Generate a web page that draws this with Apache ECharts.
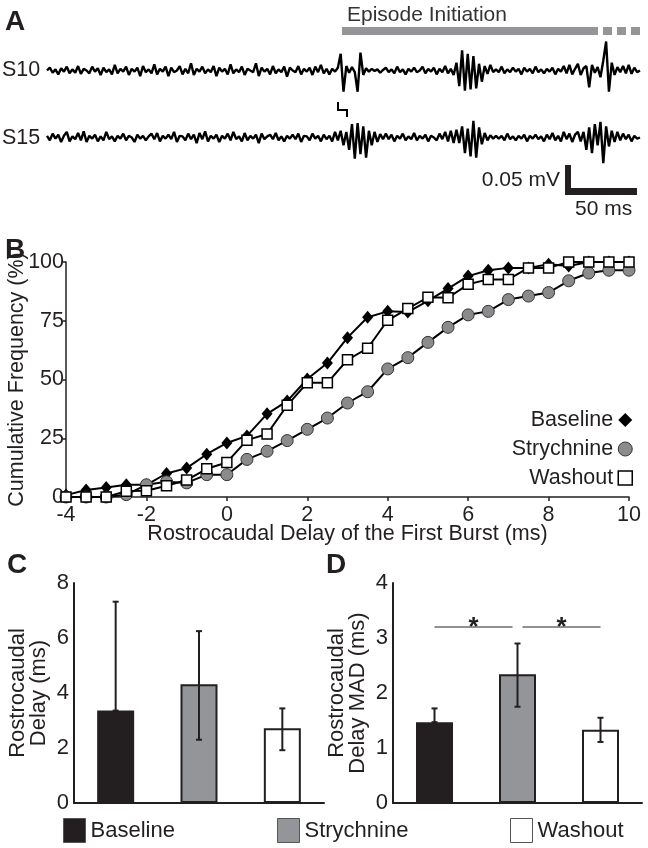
<!DOCTYPE html>
<html><head><meta charset="utf-8">
<script src="https://cdn.jsdelivr.net/npm/echarts@6/dist/echarts.min.js"></script>
<style>html,body{margin:0;padding:0;background:#fff}#c{width:648px;height:848px}</style>
</head><body><div id="c"></div>
<script>
// ---- Panel A: extracellular traces (µV), sampled every 2 ms, 0..420 ms ----
const traceStepMs = 2;
const traceS10 = [
  0, 5, -4, 2, -7, 4, -2, 7, -5, 2, -4, 8, -6, 3, 0, -5, 7, -2, 4, -8,
  5, -3, 2, -7, 10, -5, 3, -2, 7, -8, 3, -2, 5, -10, 8, -3, 2, -5, 11, -7,
  3, -2, 7, -10, 5, -3, 0, 8, -7, 3, -5, 13, -8, 3, -2, 7, -5, 2, -3, 8,
  -10, 5, -2, 3, -7, 11, -5, 2, -3, 7, -8, 3, 0, -3, 13, -10, 5, -2, 3, -7,
  8, -5, 2, -3, 7, -11, 5, 0, -3, 8, -7, 3, -2, 5, -8, 7, -3, 10, -5, 3,
  -7, 3, -2, 5,
  30, -38, 8, -4, 6, -3, -38, 32, -8, 4, -2, 3, -1, 2, -4, 1,
  5, -3, 2, -5, 7, -3, 2, -7, 3, -2, 5, -3, 0, 7, -5, 3, -2, 5, -7, 3,
  -3, 8, -5, 3, -8,
  14, -28, 36, -36, 30, -34, 26, -32, 12, -20, 8, -6, 10, -3, 2,
  -3, 7, -5, 2, -3, 5, -2, 3, -7, 5, -2, 3, -5, 7, -3, 2, -5, 3, -2, 5,
  -7, 3, -2, 8, -5, 10, -7, 3, 12, -8,
  4, 8, -30, 10, -4, 6, -12, 18, 52, -38,
  14, -8, 6, -3, 8, -5, 10, -6, 5, -3, 0
];
const traceS15 = [
  3, -5, 7, -2, 5, -8, 3, 10, -7, 2, -3, 8, -5, 11, -8, 3, -2, 5, -7, 2,
  -5, 10, -3, 2, -7, 3, -2, 7, -5, 3, 0, -8, 5, -2, 3, -5, 2, 7, -3, 8,
  -7, 3, -2, 5, -3, 10, -8, 3, 2, -5, 7, -3, 5, -10, 8, -3, 11, -7, 3, -2,
  5, -8, 3, -2, 7, -5, 10, -3, 2, -7, 8, -5, 3, -2, 5, -10, 7, -3, 2, 5,
  -3, 8, -5, 2, -7, 3, -2, 5, -3, 7, -8, 3, 2, -5, 7, -2, 3, -7, 5, -3,
  3, -7, 10, -5, 12,
  -14, 10, -22, 24, -38, 26, -30, 20, -36, 12, -14, 10, -8, 6, -3,
  7, -3, 5, -7, 3, -2, 7, -5, 2, -3, 8, -5, 3, -2, 5, -7, 3, 0, -5, 7, -3, 10, -7, 12, -10,
  14, -10, 20, -28, 16, -34, 30, -36, 18, -12, 8, -5, 4, -2, 3,
  -2, 3, -5, 7, -3, 2, -5, 3, -2, 5, -7, 3, -2, 5, -3, 2, -7, 5, -3, 8, -5, 3, -7, 10, -3, 7, -8, 5, 10, -7,
  10, -22, 18, -28, 24, -14, 28, -46, 20, -16,
  12, -8, 10, -5, 7, -3, 5, -7, 3, -2, 0
];
const traceLabels = ['S10', 'S15'];

// ---- Panel B: cumulative frequency (%) ----
const delaysMs = [-4,-3.5,-3,-2.5,-2,-1.5,-1,-0.5,0,0.5,1,1.5,2,2.5,3,3.5,4,4.5,5,5.5,6,6.5,7,7.5,8,8.5,9,9.5,10];
const cdfBaseline   = [0.8,3,4,5.2,5.2,10,12.3,18.2,23,26,35.4,40.8,50.2,57,67.8,76.5,79,78.7,83.5,88.7,94,96.5,97.5,97.5,99,98.3,100,100,100];
const cdfStrychnine = [0,0,0,1,5.2,6.5,6,9.5,9.5,16,19.5,24,28.8,33.6,40,44.8,54.5,59.3,65.8,72.2,77.5,79,84,85.5,87,92,95.3,96.5,96.5];
const cdfWashout    = [0,0,0,2.5,2.7,4.8,7.2,12,14.7,24.2,26.8,39,48.6,48.6,58.4,63.3,75.2,80.2,85,84.8,90.5,92.6,92.6,97.5,97.5,100,100,100,100];
const bYTicks = [0, 25, 50, 75, 100];
const bXTicks = [-4, 10];

// ---- Panels C & D ----
const groups = ['Baseline', 'Strychnine', 'Washout'];
const delayMean = [3.36, 4.32, 2.72];
const delayLow  = [3.36, 2.30, 1.92];
const delayHigh = [7.32, 6.25, 3.44];
const madMean = [1.47, 2.34, 1.33];
const madLow  = [1.47, 1.75, 1.11];
const madHigh = [1.72, 2.90, 1.55];
const sigPairs = [[0, 1], [1, 2]];
const sigLevel = 3.2;

// ---- styling ----
const FF = "'Liberation Sans', Arial, Helvetica, sans-serif";
const INK = '#231f20';
const GRAY = '#939598';
const groupColors = [INK, GRAY, '#ffffff'];

const traceTimes = traceS10.map((_, i) => i * traceStepMs);

function errRender(params, api) {
  const x = api.value(0), lo = api.value(1), hi = api.value(2);
  const pLo = api.coord([x, lo]), pHi = api.coord([x, hi]);
  const cap = 3, st = {stroke: INK, lineWidth: 2};
  const ch = [
    {type: 'line', shape: {x1: pLo[0], y1: pLo[1], x2: pHi[0], y2: pHi[1]}, style: st},
    {type: 'line', shape: {x1: pHi[0] - cap, y1: pHi[1], x2: pHi[0] + cap, y2: pHi[1]}, style: st}
  ];
  if (pLo[1] - pHi[1] > 1) ch.push({type: 'line', shape: {x1: pLo[0] - cap, y1: pLo[1], x2: pLo[0] + cap, y2: pLo[1]}, style: st});
  return {type: 'group', children: ch};
}
function sigRender(params, api) {
  const a = api.value(0), b = api.value(1), y = api.value(2);
  const pa = api.coord([a, y]), pb = api.coord([b, y]);
  const x1 = pa[0] + (a === 1 ? 5 : 0), x2 = pb[0] - (b === 1 ? 5 : 0);
  return {type: 'group', children: [
    {type: 'line', shape: {x1: x1, y1: pa[1], x2: x2, y2: pa[1]}, style: {stroke: INK, lineWidth: 1}},
    {type: 'text', style: {text: '*', x: (x1 + x2) / 2, y: pa[1] + 14, align: 'center', verticalAlign: 'bottom',
      font: 'bold 26px ' + FF, fill: INK}}
  ]};
}

const chart = echarts.init(document.getElementById('c'), null, {renderer: 'canvas'});
const txtB = {fontFamily: FF, fontSize: 21.5, color: INK};
const txtCD = {fontFamily: FF, fontSize: 22, color: INK};
const gridBase = {containLabel: false, outerBoundsMode: 'none'};

const option = {
  animation: false,
  backgroundColor: '#fff',
  textStyle: {fontFamily: FF},
  grid: [
    Object.assign({left: 47, width: 593, top: 37, height: 67}, gridBase),
    Object.assign({left: 47, width: 593, top: 104, height: 67}, gridBase),
    Object.assign({left: 66, width: 563, top: 262, height: 235}, gridBase),
    Object.assign({left: 74, width: 250, top: 583, height: 220}, gridBase),
    Object.assign({left: 393, width: 249, top: 583, height: 220}, gridBase)
  ],
  xAxis: [
    {gridIndex: 0, type: 'category', data: traceTimes, boundaryGap: false, show: false},
    {gridIndex: 1, type: 'category', data: traceTimes, boundaryGap: false, show: false},
    {gridIndex: 2, type: 'value', min: bXTicks[0], max: bXTicks[1], interval: 2,
      axisLine: {onZero: false, lineStyle: {color: INK, width: 1.5}},
      axisTick: {show: true, length: 4, lineStyle: {color: INK, width: 1.5}},
      axisLabel: Object.assign({margin: 7}, txtB), splitLine: {show: false},
      name: 'Rostrocaudal Delay of the First Burst (ms)', nameLocation: 'middle', nameGap: 26,
      nameMoveOverlap: false, nameTextStyle: txtB},
    {gridIndex: 3, type: 'category', data: groups, axisLine: {lineStyle: {color: INK, width: 2}},
      axisTick: {show: false}, axisLabel: {show: false}},
    {gridIndex: 4, type: 'category', data: groups, axisLine: {lineStyle: {color: INK, width: 2}},
      axisTick: {show: false}, axisLabel: {show: false}}
  ],
  yAxis: [
    {gridIndex: 0, type: 'value', min: -60, max: 60, show: false},
    {gridIndex: 1, type: 'value', min: -60, max: 60, show: false},
    {gridIndex: 2, type: 'value', min: bYTicks[0], max: bYTicks[bYTicks.length - 1], interval: 25,
      axisLine: {show: true, onZero: false, lineStyle: {color: INK, width: 1.5}},
      axisTick: {show: true, length: 3, lineStyle: {color: INK, width: 1.5}},
      axisLabel: Object.assign({margin: 2}, txtB), splitLine: {show: false},
      name: 'Cumulative Frequency (%)', nameLocation: 'middle', nameGap: 38, nameMoveOverlap: false,
      nameTextStyle: txtB},
    {gridIndex: 3, type: 'value', min: 0, max: 8, interval: 2,
      axisLine: {show: true, lineStyle: {color: INK, width: 2}}, axisTick: {show: false},
      axisLabel: Object.assign({margin: 5}, txtCD), splitLine: {show: false},
      name: 'Rostrocaudal\nDelay (ms)', nameLocation: 'middle', nameGap: 25, nameMoveOverlap: false,
      nameTextStyle: Object.assign({lineHeight: 21}, txtCD)},
    {gridIndex: 4, type: 'value', min: 0, max: 4, interval: 1,
      axisLine: {show: true, lineStyle: {color: INK, width: 2}}, axisTick: {show: false},
      axisLabel: Object.assign({margin: 5}, txtCD), splitLine: {show: false},
      name: 'Rostrocaudal\nDelay MAD (ms)', nameLocation: 'middle', nameGap: 25, nameMoveOverlap: false,
      nameTextStyle: Object.assign({lineHeight: 21}, txtCD)}
  ],
  legend: [
    {orient: 'vertical', right: 15, top: 409, align: 'right', padding: 0, itemGap: 7,
      itemWidth: 14, itemHeight: 14, selectedMode: false, textStyle: txtB,
      data: [
        {name: 'Baseline', icon: 'diamond', itemStyle: {color: '#000', borderWidth: 0}},
        {name: 'Strychnine', icon: 'circle', itemStyle: {color: '#8a8b8d', borderColor: '#333', borderWidth: 1}},
        {name: 'Washout', icon: 'rect', itemStyle: {color: '#fff', borderColor: '#000', borderWidth: 1.5}}
      ]},
    {left: 63, top: 818, padding: 0, itemWidth: 22, itemHeight: 24, selectedMode: false, textStyle: txtCD,
      data: [{name: 'Baseline', icon: 'rect', itemStyle: {color: groupColors[0], borderColor: '#555', borderWidth: 1}}]},
    {left: 277, top: 818, padding: 0, itemWidth: 22, itemHeight: 24, selectedMode: false, textStyle: txtCD,
      data: [{name: 'Strychnine', icon: 'rect', itemStyle: {color: groupColors[1], borderColor: '#555', borderWidth: 1}}]},
    {left: 510, top: 818, padding: 0, itemWidth: 22, itemHeight: 24, selectedMode: false, textStyle: txtCD,
      data: [{name: 'Washout', icon: 'rect', itemStyle: {color: groupColors[2], borderColor: '#555', borderWidth: 1}}]}
  ],
  series: [
    {name: traceLabels[0], type: 'line', xAxisIndex: 0, yAxisIndex: 0, data: traceS10, showSymbol: false,
      lineStyle: {color: '#000', width: 2.4}, silent: true},
    {name: traceLabels[1], type: 'line', xAxisIndex: 1, yAxisIndex: 1, data: traceS15, showSymbol: false,
      lineStyle: {color: '#000', width: 2.4}, silent: true},
    {name: 'Baseline', type: 'line', xAxisIndex: 2, yAxisIndex: 2, z: 3,
      data: delaysMs.map((d, i) => [d, cdfBaseline[i]]), symbol: 'diamond', symbolSize: [11, 13],
      itemStyle: {color: '#000'}, lineStyle: {color: '#000', width: 2}},
    {name: 'Strychnine', type: 'line', xAxisIndex: 2, yAxisIndex: 2, z: 4,
      data: delaysMs.map((d, i) => [d, cdfStrychnine[i]]), symbol: 'circle', symbolSize: 12,
      itemStyle: {color: '#8a8b8d', borderColor: '#333', borderWidth: 1}, lineStyle: {color: '#000', width: 2}},
    {name: 'Washout', type: 'line', xAxisIndex: 2, yAxisIndex: 2, z: 5,
      data: delaysMs.map((d, i) => [d, cdfWashout[i]]), symbol: 'rect', symbolSize: 10,
      itemStyle: {color: '#fff', borderColor: '#000', borderWidth: 1.5}, lineStyle: {color: '#000', width: 2}},
    {name: 'Delay', type: 'bar', xAxisIndex: 3, yAxisIndex: 3, barWidth: 37,
      data: delayMean.map((v, i) => ({value: v, itemStyle: {color: groupColors[i], borderColor: INK, borderWidth: 2}}))},
    {name: 'DelayErr', type: 'custom', xAxisIndex: 3, yAxisIndex: 3, renderItem: errRender, z: 5,
      encode: {x: 0, y: [1, 2]}, data: groups.map((g, i) => [i, delayLow[i], delayHigh[i]])},
    {name: 'MAD', type: 'bar', xAxisIndex: 4, yAxisIndex: 4, barWidth: 37,
      data: madMean.map((v, i) => ({value: v, itemStyle: {color: groupColors[i], borderColor: INK, borderWidth: 2}}))},
    {name: 'MADErr', type: 'custom', xAxisIndex: 4, yAxisIndex: 4, renderItem: errRender, z: 5,
      encode: {x: 0, y: [1, 2]}, data: groups.map((g, i) => [i, madLow[i], madHigh[i]])},
    {name: 'Sig', type: 'custom', xAxisIndex: 4, yAxisIndex: 4, renderItem: sigRender, z: 5,
      encode: {x: [0, 1], y: 2}, data: sigPairs.map(p => [p[0], p[1], sigLevel])}
  ],
  graphic: [
    {type: 'text', left: 5, top: 8, style: {text: 'A', font: 'bold 28px ' + FF, fill: INK}},
    {type: 'text', left: 5, top: 236, style: {text: 'B', font: 'bold 28px ' + FF, fill: INK}},
    {type: 'text', left: 7, top: 551, style: {text: 'C', font: 'bold 28px ' + FF, fill: INK}},
    {type: 'text', left: 326, top: 551, style: {text: 'D', font: 'bold 28px ' + FF, fill: INK}},
    {type: 'text', left: 347, top: 5, style: {text: 'Episode Initiation', font: '21px ' + FF, fill: '#333'}},
    {type: 'rect', shape: {x: 342, y: 27, width: 256, height: 8}, style: {fill: GRAY}},
    {type: 'rect', shape: {x: 603, y: 27, width: 9, height: 8}, style: {fill: GRAY}},
    {type: 'rect', shape: {x: 617, y: 27, width: 9, height: 8}, style: {fill: GRAY}},
    {type: 'rect', shape: {x: 631, y: 27, width: 9, height: 8}, style: {fill: GRAY}},
    {type: 'text', left: 2, top: 59, style: {text: traceLabels[0], font: '21.5px ' + FF, fill: INK}},
    {type: 'text', left: 2, top: 127, style: {text: traceLabels[1], font: '21.5px ' + FF, fill: INK}},
    {type: 'polyline', shape: {points: [[338, 102], [338, 110], [347, 110], [347, 117]]}, style: {stroke: '#000', lineWidth: 2, fill: null}},
    {type: 'rect', shape: {x: 565, y: 165, width: 6, height: 30}, style: {fill: INK}},
    {type: 'rect', shape: {x: 565, y: 188, width: 72, height: 7}, style: {fill: INK}},
    {type: 'text', right: 88, top: 170, style: {text: '0.05 mV', font: '21px ' + FF, fill: INK}},
    {type: 'text', left: 575, top: 199, style: {text: '50 ms', font: '21px ' + FF, fill: INK}}
  ]
};
chart.setOption(option);
</script></body></html>
